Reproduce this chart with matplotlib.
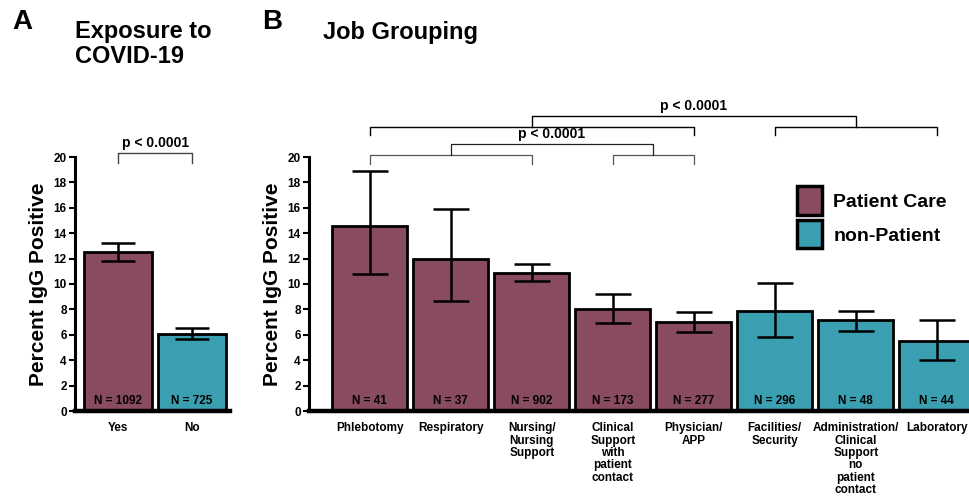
import matplotlib
matplotlib.use("Agg")
import matplotlib.pyplot as plt
import matplotlib.patches as mpatches

plt.rcParams["font.family"] = ["Liberation Sans", "DejaVu Sans"]
plt.rcParams["font.weight"] = "bold"

# ── data ──────────────────────────────────────────────────────────────────────
exposure_labels = ["Yes", "No"]
exposure_pct = [12.5, 6.1]
exposure_lo = [11.8, 5.65]
exposure_hi = [13.2, 6.55]
exposure_n = [1092, 725]

job_labels = ["Phlebotomy", "Respiratory", "Nursing/\nNursing\nSupport",
              "Clinical\nSupport\nwith\npatient\ncontact", "Physician/\nAPP",
              "Facilities/\nSecurity",
              "Administration/\nClinical\nSupport\nno\npatient\ncontact",
              "Laboratory"]
job_pct = [14.6, 12.0, 10.9, 8.05, 7.0, 7.85, 7.15, 5.5]
job_lo = [10.75, 8.7, 10.2, 6.9, 6.2, 5.85, 6.3, 4.05]
job_hi = [18.9, 15.9, 11.55, 9.25, 7.8, 10.1, 7.9, 7.2]
job_n = [41, 37, 902, 173, 277, 296, 48, 44]
job_group = ["Patient Care"] * 5 + ["non-Patient"] * 3

COLORS = {"Patient Care": "#894b5f", "non-Patient": "#3a9fb0"}
EXPOSURE_COLORS = [COLORS["Patient Care"], COLORS["non-Patient"]]


def style_axis(ax):
    ax.set_ylim(0, 20)
    ax.set_yticks(range(0, 21, 2))
    for side in ("top", "right"):
        ax.spines[side].set_visible(False)
    ax.spines["left"].set_linewidth(2.2)
    ax.spines["bottom"].set_linewidth(3.2)
    ax.tick_params(axis="y", length=4, width=1.5, labelsize=8.5, pad=2)
    ax.tick_params(axis="x", length=0, labelsize=8.5, pad=8)
    ax.set_ylabel("Percent IgG Positive", fontsize=15, fontweight="bold",
                  labelpad=4)


def draw_bars(ax, pct, lo, hi, ns, colors, width, cap):
    x = list(range(len(pct)))
    ax.bar(x, pct, width=width, color=colors, edgecolor="black",
           linewidth=2, zorder=2)
    yerr = [[p - l for p, l in zip(pct, lo)], [h - p for p, h in zip(pct, hi)]]
    ax.errorbar(x, pct, yerr=yerr, fmt="none", ecolor="black",
                elinewidth=1.8, capsize=cap, capthick=1.8, zorder=3)
    for xi, n in zip(x, ns):
        ax.text(xi, 0.35, f"N = {n}", ha="center", va="bottom",
                fontsize=8.5, fontweight="bold", zorder=4)


def bracket(ax, x0, x1, y, leg, color="black", lw=1.0):
    ax.plot([x0, x0, x1, x1], [y - leg, y, y, y - leg], color=color, lw=lw,
            clip_on=False, zorder=5)


fig = plt.figure(figsize=(9.7, 4.98), dpi=100)

# ── panel A ───────────────────────────────────────────────────────────────────
axA = fig.add_axes([75 / 970, 87 / 498, 155 / 970, 254 / 498])
draw_bars(axA, exposure_pct, exposure_lo, exposure_hi, exposure_n,
          EXPOSURE_COLORS, 0.92, 12)
style_axis(axA)
axA.set_xlim(-0.58, 1.51)
axA.set_xticks(range(len(exposure_labels)))
axA.set_xticklabels(exposure_labels, fontweight="bold")
bracket(axA, 0, 1, 20.3, 0.8, color="#444444")
axA.text(0.5, 20.55, "p < 0.0001", ha="center", va="bottom", fontsize=10,
         fontweight="bold")

fig.text(12 / 970, 1 - 22 / 498, "A", fontsize=20, fontweight="bold",
         va="center", ha="left")
fig.text(75 / 970, 1 - 44 / 498, "Exposure to\nCOVID-19", fontsize=17,
         fontweight="bold", va="center", ha="left", linespacing=1.1)

# ── panel B ───────────────────────────────────────────────────────────────────
axB = fig.add_axes([309 / 970, 87 / 498, 661 / 970, 254 / 498])
draw_bars(axB, job_pct, job_lo, job_hi, job_n,
          [COLORS[g] for g in job_group], 0.925, 13)
style_axis(axB)
axB.set_xlim(-0.75, 7.41)
axB.set_xticks(range(len(job_labels)))
axB.set_xticklabels(job_labels, fontweight="bold", linespacing=1.05, va="top")

# patient care vs non-patient
bracket(axB, 0, 4, 22.36, 0.6)
bracket(axB, 5, 7, 22.36, 0.6)
bracket(axB, 2, 6, 23.2, 0.84)
axB.text(4.0, 23.45, "p < 0.0001", ha="center", va="bottom", fontsize=10,
         fontweight="bold")
# within patient care
bracket(axB, 0, 2, 20.16, 0.7, color="#555555", lw=0.9)
bracket(axB, 3, 4, 20.16, 0.7, color="#555555", lw=0.9)
bracket(axB, 1, 3.5, 21.0, 0.84, color="#222222", lw=0.9)
axB.text(2.25, 21.25, "p < 0.0001", ha="center", va="bottom", fontsize=10,
         fontweight="bold")

handles = [mpatches.Patch(facecolor=c, edgecolor="black", linewidth=2.5,
                          label=g) for g, c in COLORS.items()]
axB.legend(handles=handles, loc="upper left", bbox_to_anchor=(0.727, 0.915),
           frameon=False, handlelength=1.25, handleheight=1.85,
           handletextpad=0.6, labelspacing=0.3, borderaxespad=0,
           prop={"size": 14, "weight": "bold"})

fig.text(262 / 970, 1 - 22 / 498, "B", fontsize=20, fontweight="bold",
         va="center", ha="left")
fig.text(323 / 970, 1 - 32 / 498, "Job Grouping", fontsize=17,
         fontweight="bold", va="center", ha="left")

fig.savefig("out.png", dpi=100)
